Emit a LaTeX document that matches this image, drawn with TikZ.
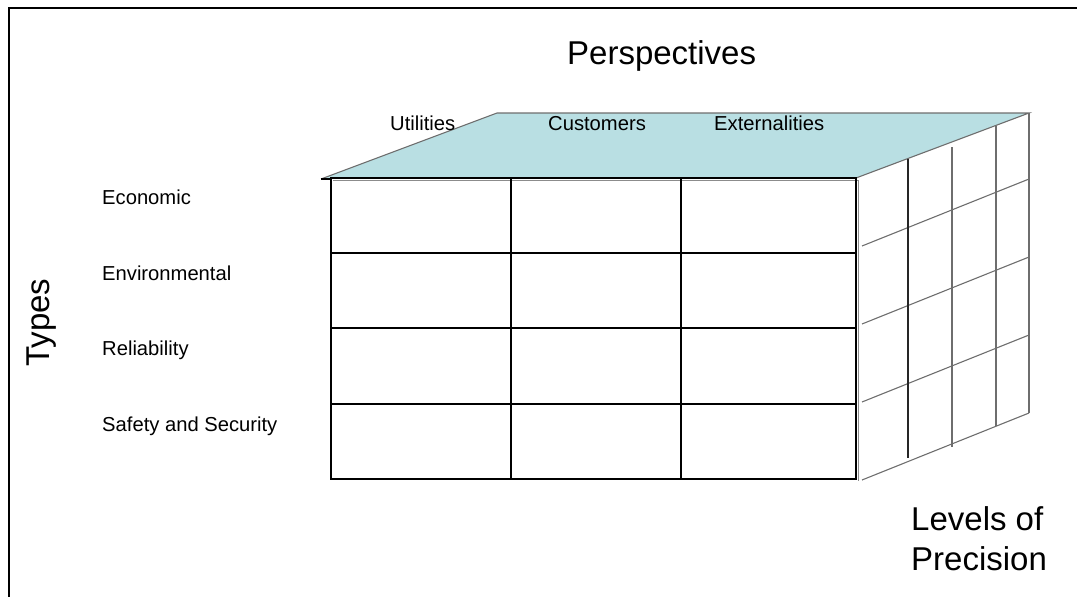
\documentclass[tikz,border=0pt]{standalone}
\usepackage{fontspec}
\setmainfont{Liberation Sans}
\definecolor{topface}{HTML}{B9DFE3}
\definecolor{edgegray}{HTML}{6E6E6E}
\begin{document}
\begin{tikzpicture}[x=1pt,y=-1pt,
  big/.style={font=\fontsize{33}{40}\selectfont, inner sep=0pt, anchor=base west},
  small/.style={font=\fontsize{20.2}{24}\selectfont, inner sep=0pt, anchor=base west},
  sideline/.style={draw=edgegray, line width=1.1pt},
  gridline/.style={draw=black, line width=1.5pt},
  shadowline/.style={draw=black!45, line width=1.5pt}]
\useasboundingbox (0,0) rectangle (1077,597);
% frame
\draw[line width=2.2pt] (9,597) -- (9,8) -- (1077,8);
% top face
\fill[topface] (321,179) -- (497,113) -- (1029,113) -- (856,178) -- cycle;
\draw[sideline] (321,179) -- (497,113) -- (1029,113) -- (856,178);
% right face
\draw[sideline] (1029,113) -- (1029,413);
\draw[sideline] (862,480) -- (1029,413);
\draw[sideline] (862,402) -- (1029,335);
\draw[sideline] (862,324) -- (1029,257);
\draw[sideline] (862,246) -- (1029,179);
\draw[sideline, draw=black!85] (908,158.5) -- (908,458);
\draw[sideline] (952,147) -- (952,447);
\draw[sideline] (996,125.5) -- (996,426);
% front face shadow
\draw[shadowline] (333,180.5) -- (858.5,180.5) -- (858.5,481);
% front face grid
\draw[gridline] (331,178) rectangle (856,479);
\draw[gridline] (511,178) -- (511,479);
\draw[gridline] (681,178) -- (681,479);
\draw[gridline] (331,253) -- (856,253);
\draw[gridline] (331,328) -- (856,328);
\draw[gridline] (331,404) -- (856,404);
\draw[gridline] (321,179) -- (331,179);
% texts
\node[big] (persp) at (567,64) {Perspectives};
\node[small] (util) at (390,130) {Utilities};
\node[small] (cust) at (548,130) {Customers};
\node[small] (ext) at (714,130) {Externalities};
\node[small] (econ) at (102,204) {Economic};
\node[small] (env) at (102,280) {Environmental};
\node[small] (rel) at (102,355) {Reliability};
\node[small] (safe) at (102,431) {Safety and Security};
\node[big, rotate=90] (types) at (49,367) {Types};
\node[big] (lev) at (911,530) {Levels of};
\node[big] (prec) at (911,570) {Precision};
\end{tikzpicture}
\end{document}
